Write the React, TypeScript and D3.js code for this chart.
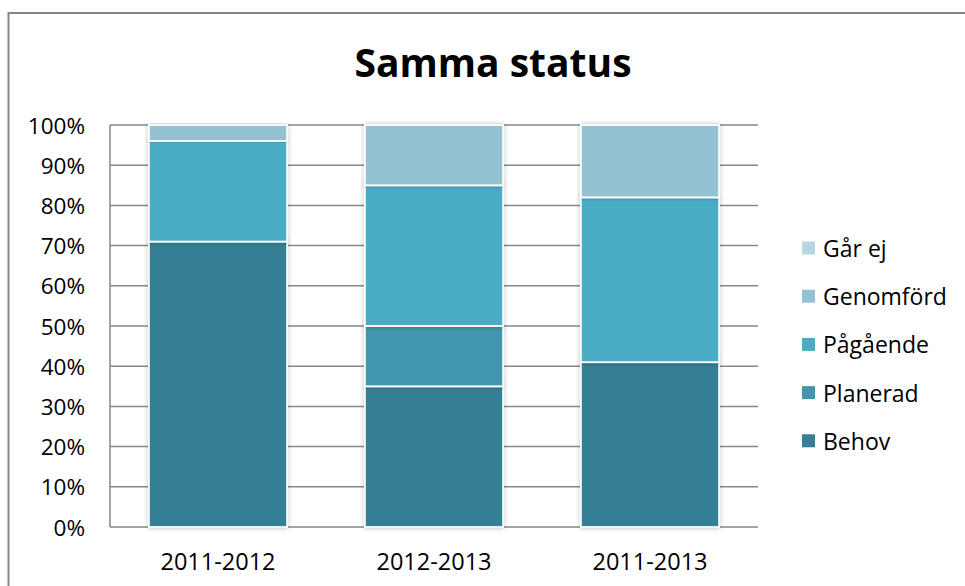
import { useEffect, useRef } from "react";
import * as d3 from "d3";

const categories = ["2011-2012", "2012-2013", "2011-2013"];
const seriesNames = ["Behov", "Planerad", "Pågående", "Genomförd", "Går ej"];
const behov = [71, 35, 41];
const planerad = [0, 15, 0];
const pagaende = [25, 35, 41];
const genomford = [4, 15, 18];
const garEj = [0, 0, 0];
const colors = ["#367f94", "#4396ae", "#4bacc6", "#93c2d3", "#b8d7e3"];
const yTicks = [0, 10, 20, 30, 40, 50, 60, 70, 80, 90, 100];

export default function App() {
  const ref = useRef<SVGSVGElement>(null);

  useEffect(() => {
    const svg = d3.select(ref.current);
    svg.selectAll("*").remove();

    const width = 965;
    const height = 586;
    const margin = { top: 125, right: 207, bottom: 59, left: 110 };
    const font = "'Open Sans', sans-serif";

    svg.attr("width", width).attr("height", height);

    const defs = svg.append("defs");
    const f = defs.append("filter").attr("id", "shadow")
      .attr("x", "-10%").attr("y", "-10%").attr("width", "120%").attr("height", "120%");
    f.append("feDropShadow")
      .attr("dx", 0).attr("dy", 0).attr("stdDeviation", 2)
      .attr("flood-color", "#000").attr("flood-opacity", 0.3);

    // outer chart border
    svg.append("rect")
      .attr("x", 8.5).attr("y", 13)
      .attr("width", 1000).attr("height", 1000)
      .attr("fill", "#fff").attr("stroke", "#868686").attr("stroke-width", 2);

    svg.append("text")
      .attr("x", 493).attr("y", 77)
      .attr("text-anchor", "middle")
      .attr("font-family", font).attr("font-weight", "bold")
      .attr("font-size", 39)
      .text("Samma status");

    const rows = categories.map((c, i) => ({
      cat: c,
      Behov: behov[i],
      Planerad: planerad[i],
      "Pågående": pagaende[i],
      "Genomförd": genomford[i],
      "Går ej": garEj[i],
    }));

    const x = d3.scaleBand()
      .domain(categories)
      .range([margin.left, width - margin.right])
      .paddingInner(0.36)
      .paddingOuter(0.18);

    const y = d3.scaleLinear()
      .domain([0, 100])
      .range([height - margin.bottom, margin.top]);

    const color = d3.scaleOrdinal<string>().domain(seriesNames).range(colors);

    // gridlines
    svg.append("g").selectAll("line")
      .data(yTicks)
      .join("line")
      .attr("x1", margin.left).attr("x2", width - margin.right)
      .attr("y1", d => y(d)).attr("y2", d => y(d))
      .attr("stroke", "#868686").attr("stroke-width", 1.5);

    svg.append("line")
      .attr("x1", margin.left).attr("x2", margin.left)
      .attr("y1", y(0)).attr("y2", y(100))
      .attr("stroke", "#868686").attr("stroke-width", 1.5);

    svg.append("g").selectAll("text")
      .data(yTicks)
      .join("text")
      .attr("x", 85).attr("y", d => y(d))
      .attr("text-anchor", "end").attr("dominant-baseline", "central")
      .attr("font-family", font).attr("font-size", 22.5)
      .text(d => d + "%");

    const stack = d3.stack<any>().keys(seriesNames);
    const series = stack(rows);

    svg.append("g").selectAll("g")
      .data(series)
      .join("g")
      .attr("fill", d => color(d.key))
      .selectAll("rect")
      .data(d => d.filter(p => p[1] - p[0] > 0))
      .join("rect")
      .attr("x", d => x(d.data.cat)!)
      .attr("y", d => y(d[1]))
      .attr("width", x.bandwidth())
      .attr("height", d => y(d[0]) - y(d[1]))
      .attr("stroke", "#fff").attr("stroke-width", 1.8)
      .attr("filter", "url(#shadow)");

    svg.append("g").selectAll("text")
      .data(categories)
      .join("text")
      .attr("x", d => x(d)! + x.bandwidth() / 2)
      .attr("y", 570)
      .attr("text-anchor", "middle")
      .attr("font-family", font).attr("font-size", 23.5)
      .text(d => d);

    // legend, top entry is last series
    const legendItems = seriesNames.slice().reverse();
    const lg = svg.append("g").selectAll("g")
      .data(legendItems)
      .join("g")
      .attr("transform", (d, i) => `translate(802, ${248 + i * 48.2})`);
    lg.append("rect")
      .attr("x", 0).attr("y", -6.5)
      .attr("width", 13).attr("height", 13)
      .attr("fill", d => color(d));
    lg.append("text")
      .attr("x", 21).attr("y", 0)
      .attr("dominant-baseline", "central")
      .attr("font-family", font).attr("font-size", 23)
      .text(d => d);
  }, []);

  return (
    <svg ref={ref} style={{ position: "absolute", left: 0, top: 0 }}></svg>
  );
}
